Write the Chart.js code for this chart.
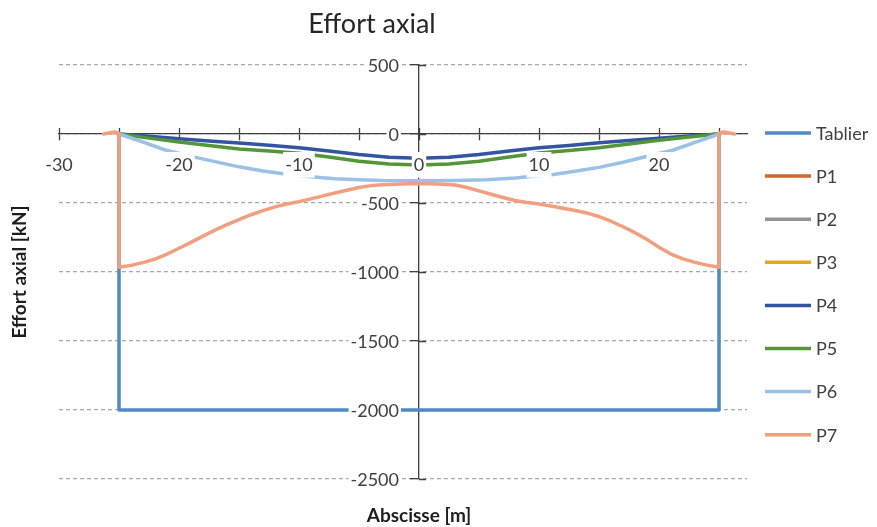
<!DOCTYPE html>
<html>
<head>
<meta charset="utf-8">
<script src="https://cdn.jsdelivr.net/npm/chart.js@4/dist/chart.umd.min.js"></script>
<style>
  html, body { margin: 0; padding: 0; background: #ffffff; }
  #wrap { width: 877px; height: 527px; }
</style>
</head>
<body>
<div id="wrap"><canvas id="chart" width="877" height="527"></canvas></div>
<script>
// Axial force along the deck (Tablier) and piles P1..P7, abscissa in metres.
const seriesNames = ['Tablier', 'P1', 'P2', 'P3', 'P4', 'P5', 'P6', 'P7'];

const tablierX = [-25, -25, 25, 25];
const tablierY = [0, -2000, -2000, 0];

const p1X = [];
const p1Y = [];
const p2X = [];
const p2Y = [];
const p3X = [];
const p3Y = [];

const p4X = [-25, -22.5, -20, -17.5, -15, -12.5, -10, -7.5, -5, -2.5, 0, 2.5, 5, 7.5, 10, 12.5, 15, 17.5, 20, 22.5, 25];
const p4Y = [0, -17, -34, -50, -65, -82, -100, -123, -148, -168, -176, -168, -148, -123, -100, -84, -64, -47, -31, -15, 0];

const p5X = [-25, -22.5, -20, -17.5, -15, -12.5, -10, -7.5, -5, -2.5, 0, 2.5, 5, 7.5, 10, 12.5, 15, 17.5, 20, 22.5, 25];
const p5Y = [0, -30, -58, -84, -108, -123, -140, -166, -197, -218, -225, -218, -197, -166, -138, -120, -100, -72, -45, -22, 0];

const p6X = [-25, -23, -21.3, -19, -17, -15, -13, -11, -9, -7, -5, -3, 0, 3, 5.6, 8, 9.5, 11.2, 13, 15, 17, 18.7, 21.2, 23, 25];
const p6Y = [0, -58, -112, -162, -200, -238, -268, -292, -309, -324, -332, -337, -338, -337, -332, -318, -306, -293, -270, -242, -205, -168, -116, -60, 0];

const p7X = [-26.3, -25.4, -25, -25, -24, -23, -22, -21, -20, -19, -18, -17, -16, -15, -14, -13, -12, -11, -10, -9, -8, -7, -6, -5, -4, -3, -2, -1, 0,
             1, 2, 3, 4, 5, 6, 7, 8, 9, 10, 11, 12, 13, 14, 15, 16, 17, 18, 19, 20, 21, 22, 23, 24, 25, 25, 25.4, 26.3];
const p7Y = [0, 14, 5, -965, -952, -932, -906, -870, -828, -785, -740, -697, -657, -620, -585, -555, -528, -507, -490, -470, -448, -428, -408, -388, -374, -368, -364, -361, -360,
             -361, -365, -370, -388, -412, -437, -460, -482, -497, -508, -522, -538, -555, -573, -598, -632, -672, -715, -765, -820, -870, -905, -930, -950, -965, 5, 14, 0];

const xTickStep = 5;
const xLabelStep = 10;
const yTickStep = 500;

const seriesX = [tablierX, p1X, p2X, p3X, p4X, p5X, p6X, p7X];
const seriesY = [tablierY, p1Y, p2Y, p3Y, p4Y, p5Y, p6Y, p7Y];
const seriesColors = ['#4f89c6', '#d1672c', '#959595', '#e3a61c', '#3254a3', '#53963a', '#9cc1e7', '#f29f80'];

const FONT = 'Lato, "Open Sans", sans-serif';
const AXIS_COLOR = '#3f3f3f';
const TEXT_COLOR = '#404040';

function toPoints(xs, ys) {
  return xs.map((x, i) => ({ x: x, y: ys[i] }));
}

const datasets = seriesNames.map((name, i) => ({
  label: name,
  data: toPoints(seriesX[i], seriesY[i]),
  borderColor: seriesColors[i],
  backgroundColor: seriesColors[i],
  borderWidth: 3.5,
  pointRadius: 0,
  pointHoverRadius: 0,
  showLine: true,
  tension: 0,
  borderJoinStyle: 'round',
  borderCapStyle: 'round',
  order: seriesNames.length - 1 - i
}));

// Upper / right halves of the tick marks, so they cross the axes.
const crossTicks = {
  id: 'crossTicks',
  beforeDatasetsDraw(chart) {
    const { ctx, scales } = chart;
    const xs = scales.x, ys = scales.y;
    const x0 = xs.getPixelForValue(0);
    const y0 = ys.getPixelForValue(0);
    ctx.save();
    ctx.strokeStyle = AXIS_COLOR;
    ctx.lineWidth = 1.3;
    ctx.beginPath();
    xs.ticks.forEach(t => {
      const px = Math.round(xs.getPixelForValue(t.value)) + 0.5;
      ctx.moveTo(px, y0 - 6);
      ctx.lineTo(px, y0);
    });
    ys.ticks.forEach(t => {
      const py = Math.round(ys.getPixelForValue(t.value)) + 0.5;
      ctx.moveTo(x0, py);
      ctx.lineTo(x0 + 7, py);
    });
    ctx.stroke();
    ctx.restore();
  }
};

// Value labels of the vertical axis, left of the axis on a white ground.
const yTickLabels = {
  id: 'yTickLabels',
  afterDatasetsDraw(chart) {
    const { ctx, scales } = chart;
    const xs = scales.x, ys = scales.y;
    const right = xs.getPixelForValue(0) - 20;
    ctx.save();
    ctx.font = '18px ' + FONT;
    ctx.textAlign = 'right';
    ctx.textBaseline = 'middle';
    ys.ticks.forEach(t => {
      const py = ys.getPixelForValue(t.value);
      const text = String(t.value);
      const w = ctx.measureText(text).width;
      ctx.fillStyle = '#ffffff';
      ctx.fillRect(right - w - 2, py - 10, w + 4, 20);
      ctx.fillStyle = TEXT_COLOR;
      ctx.fillText(text, right, py + 1);
    });
    ctx.restore();
  }
};

// Title, axis titles and the vertical legend on the right.
const annotations = {
  id: 'annotations',
  afterDraw(chart) {
    const ctx = chart.ctx;
    const area = chart.chartArea;
    ctx.save();
    ctx.fillStyle = '#262626';
    ctx.font = '27px ' + FONT;
    ctx.textAlign = 'center';
    ctx.textBaseline = 'middle';
    ctx.fillText('Effort axial', 372, 24);

    ctx.fillStyle = '#1e1e1e';
    ctx.font = 'bold 19px ' + FONT;
    ctx.fillText('Abscisse [m]', chart.scales.x.getPixelForValue(0), 516);

    ctx.save();
    ctx.translate(20, (area.top + area.bottom) / 2);
    ctx.rotate(-Math.PI / 2);
    ctx.fillText('Effort axial [kN]', 0, 0);
    ctx.restore();

    ctx.font = '18px ' + FONT;
    ctx.textAlign = 'left';
    ctx.fillStyle = TEXT_COLOR;
    chart.data.datasets.forEach((ds, i) => {
      const yy = 133 + i * 43.1;
      ctx.strokeStyle = ds.borderColor;
      ctx.lineWidth = 3.5;
      ctx.lineCap = 'butt';
      ctx.beginPath();
      ctx.moveTo(765, yy);
      ctx.lineTo(811, yy);
      ctx.stroke();
      ctx.fillText(ds.label, 816, yy + 1);
    });
    ctx.restore();
  }
};

new Chart(document.getElementById('chart'), {
  type: 'scatter',
  data: { datasets: datasets },
  plugins: [crossTicks, yTickLabels, annotations],
  options: {
    responsive: false,
    animation: false,
    events: [],
    layout: { padding: { left: 59, right: 130, top: 65, bottom: 48 } },
    plugins: {
      legend: { display: false },
      title: { display: false },
      tooltip: { enabled: false }
    },
    scales: {
      x: {
        type: 'linear',
        min: -30,
        max: 27.333,
        position: { y: 0 },
        grid: {
          drawOnChartArea: false,
          drawTicks: true,
          tickLength: 6,
          tickColor: AXIS_COLOR,
          tickWidth: 1.3
        },
        border: { display: true, color: AXIS_COLOR, width: 1.3, z: 0 },
        ticks: {
          stepSize: xTickStep,
          includeBounds: false,
          autoSkip: false,
          maxRotation: 0,
          padding: 14,
          z: 1,
          color: TEXT_COLOR,
          font: { family: FONT, size: 18 },
          callback: v => (v % xLabelStep === 0 ? String(v) : ''),
          showLabelBackdrop: ctx => !!ctx.tick && ctx.tick.value % xLabelStep === 0,
          backdropColor: '#ffffff',
          backdropPadding: { top: 2, bottom: 2, left: 2, right: 2 }
        }
      },
      y: {
        type: 'linear',
        min: -2500,
        max: 500,
        position: { x: 0 },
        grid: {
          drawOnChartArea: true,
          color: '#a9a9a9',
          lineWidth: 1.3,
          z: -1,
          drawTicks: true,
          tickLength: 8,
          tickColor: AXIS_COLOR,
          tickWidth: 1.3,
          tickBorderDash: []
        },
        border: { display: true, color: AXIS_COLOR, width: 1.3, dash: [4, 3], z: 0 },
        ticks: {
          display: false,
          stepSize: yTickStep
        }
      }
    }
  }
});
</script>
</body>
</html>
